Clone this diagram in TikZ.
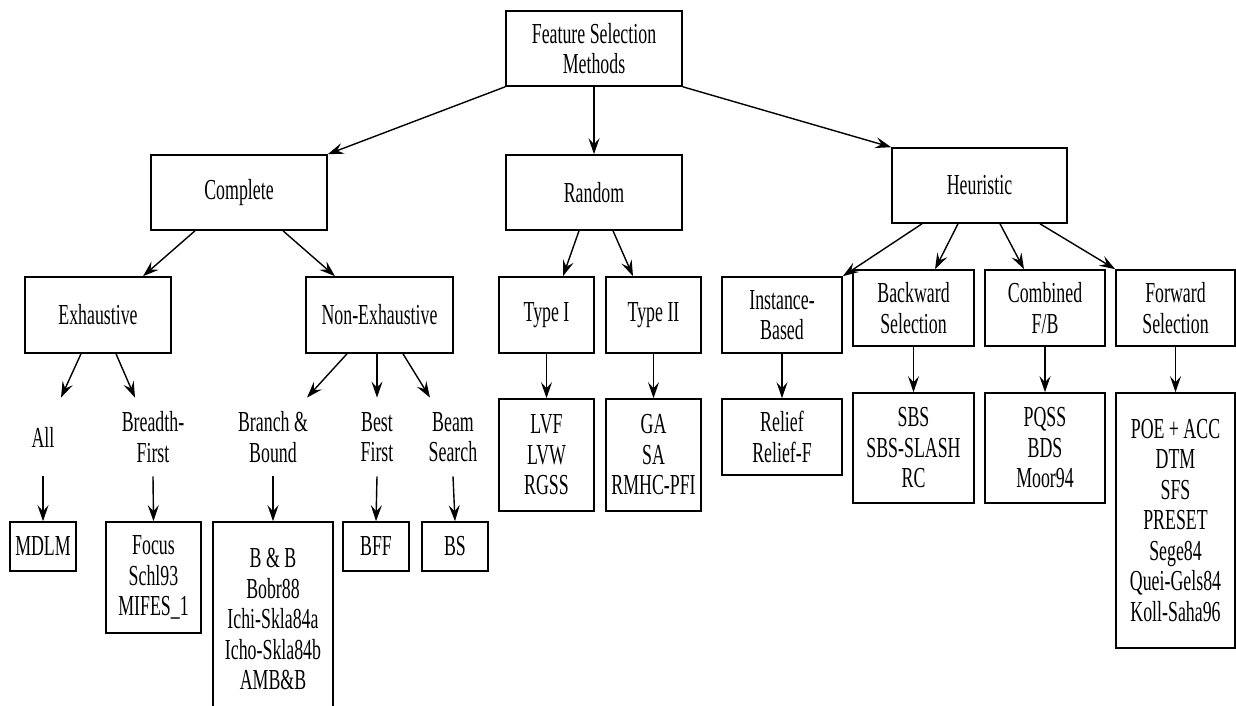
\documentclass[tikz,border=0pt]{standalone}
\usepackage{fontspec}
\setmainfont[FakeStretch=0.615]{Liberation Serif}
\usetikzlibrary{arrows.meta,calc}
\newcommand\diagfont{\fontsize{14.5}{15.25}\selectfont}
\tikzset{
  box/.style={draw, line width=0.8pt, inner sep=0pt, align=center, font=\diagfont},
  lbl/.style={inner sep=0pt, align=center, minimum height=39pt, font=\diagfont},
  link/.style={line width=0.7pt, -{Stealth[length=8pt,width=5.5pt,inset=3pt]}},
}
\begin{document}
\begin{tikzpicture}[x=0.5pt,y=-0.5pt]
\useasboundingbox (0,0) rectangle (1236,706);
\clip (0,0) rectangle (1236,706);

% top level
\node[box, minimum width=88pt, minimum height=37.5pt] (root) at (594,48.5) {Feature Selection\\Methods};

% second level
\node[box, minimum width=88pt, minimum height=37.5pt] (complete) at (239,192.5) {Complete};
\node[box, minimum width=88pt, minimum height=37.5pt] (random) at (594,192.5) {Random};
\node[box, minimum width=87.5pt, minimum height=37.5pt] (heur) at (979.5,185.5) {Heuristic};

% third level
\node[box, minimum width=73pt, minimum height=38pt] (exh) at (98,315) {Exhaustive};
\node[box, minimum width=73.5pt, minimum height=38pt] (nonex) at (379.5,315) {Non-Exhaustive};
\node[box, minimum width=47.5pt, minimum height=38pt] (type1) at (546.5,315) {Type I};
\node[box, minimum width=47.5pt, minimum height=38pt] (type2) at (653.5,315) {Type II};
\node[box, minimum width=60pt, minimum height=38pt] (inst) at (782,315) {Instance-\\Based};
\node[box, minimum width=60.5pt, minimum height=38pt] (back) at (913.5,308) {Backward\\Selection};
\node[box, minimum width=60pt, minimum height=38pt] (comb) at (1045,308) {Combined\\F/B};
\node[box, minimum width=59.5pt, minimum height=38pt] (fwd) at (1175.5,308) {Forward\\Selection};

% unboxed sub-categories
\node[lbl] (all) at (43,437) {All};
\node[lbl] (bfirst) at (153,437) {Breadth-\\First};
\node[lbl] (bb) at (273,437) {Branch \&\\Bound};
\node[lbl] (best) at (377,437) {Best\\First};
\node[lbl] (beam) at (453,437) {Beam\\Search};

% algorithms
\node[box, minimum width=33pt, minimum height=24.5pt] (mdlm) at (43,546.5) {MDLM};
\node[box, minimum width=47.5pt, minimum height=55.5pt] (focus) at (153.5,577.5) {Focus\\Schl93\\MIFES\_1};
\node[box, minimum width=60pt, minimum height=97pt] (bbb) at (273,619) {B \& B\\Bobr88\\Ichi-Skla84a\\Icho-Skla84b\\AMB\&B};
\node[box, minimum width=33pt, minimum height=24.5pt] (bff) at (376,546.5) {BFF};
\node[box, minimum width=33pt, minimum height=24.5pt] (bs) at (455,546.5) {BS};
\node[box, minimum width=47.5pt, minimum height=56pt] (lvf) at (546.5,455) {LVF\\LVW\\RGSS};
\node[box, minimum width=47.5pt, minimum height=56pt] (ga) at (653.5,455) {GA\\SA\\RMHC-PFI};
\node[box, minimum width=60pt, minimum height=38pt] (relief) at (782,437) {Relief\\Relief-F};
\node[box, minimum width=60.5pt, minimum height=55pt] (sbs) at (913.5,448) {SBS\\SBS-SLASH\\RC};
\node[box, minimum width=60pt, minimum height=55pt] (pqss) at (1045,448) {PQSS\\BDS\\Moor94};
\node[box, minimum width=59.5pt, minimum height=127.5pt] (poe) at (1175.5,520.5) {POE + ACC\\DTM\\SFS\\PRESET\\Sege84\\Quei-Gels84\\Koll-Saha96};

% connectors from the root
\draw[link] (root.south west) -- (complete.north east);
\draw[link] (root.south) -- (random.north);
\draw[link] (root.south east) -- (heur.north west);

% second to third level
\draw[link] ($(complete.south)+(-44,0)$) -- ($(exh.north)+(45,0)$);
\draw[link] ($(complete.south)+(44,0)$) -- ($(nonex.north)+(-44.5,0)$);
\draw[link] ($(random.south)+(-15,0)$) -- ($(type1.north)+(16.5,0)$);
\draw[link] ($(random.south)+(19,0)$) -- ($(type2.north)+(-20.5,0)$);
\draw[link] ($(heur.south)+(-57.5,0)$) -- (inst.north east);
\draw[link] ($(heur.south)+(-21.5,0)$) -- ($(back.north)+(21.5,0)$);
\draw[link] ($(heur.south)+(20.5,0)$) -- ($(comb.north)+(-21,0)$);
\draw[link] ($(heur.south)+(60.5,0)$) -- (fwd.north west);

% search strategies
\draw[link] ($(exh.south)+(-17,0)$) -- ($(all.north)+(18,0)$);
\draw[link] ($(exh.south)+(18,0)$) -- ($(bfirst.north)+(-18,0)$);
\draw[link] ($(nonex.south)+(-32.5,0)$) -- ($(bb.north)+(34,0)$);
\draw[link] (best.north |- nonex.south) -- (best.north);
\draw[link] ($(nonex.south)+(23.5,0)$) -- ($(beam.north)+(-23,0)$);

% down to the algorithms
\foreach \a/\b in {all/mdlm, bfirst/focus, bb/bbb, best/bff, beam/bs,
                   type1/lvf, type2/ga, inst/relief, back/sbs, comb/pqss, fwd/poe}
  \draw[link] (\a.south) -- (\b.north);
\end{tikzpicture}
\end{document}
